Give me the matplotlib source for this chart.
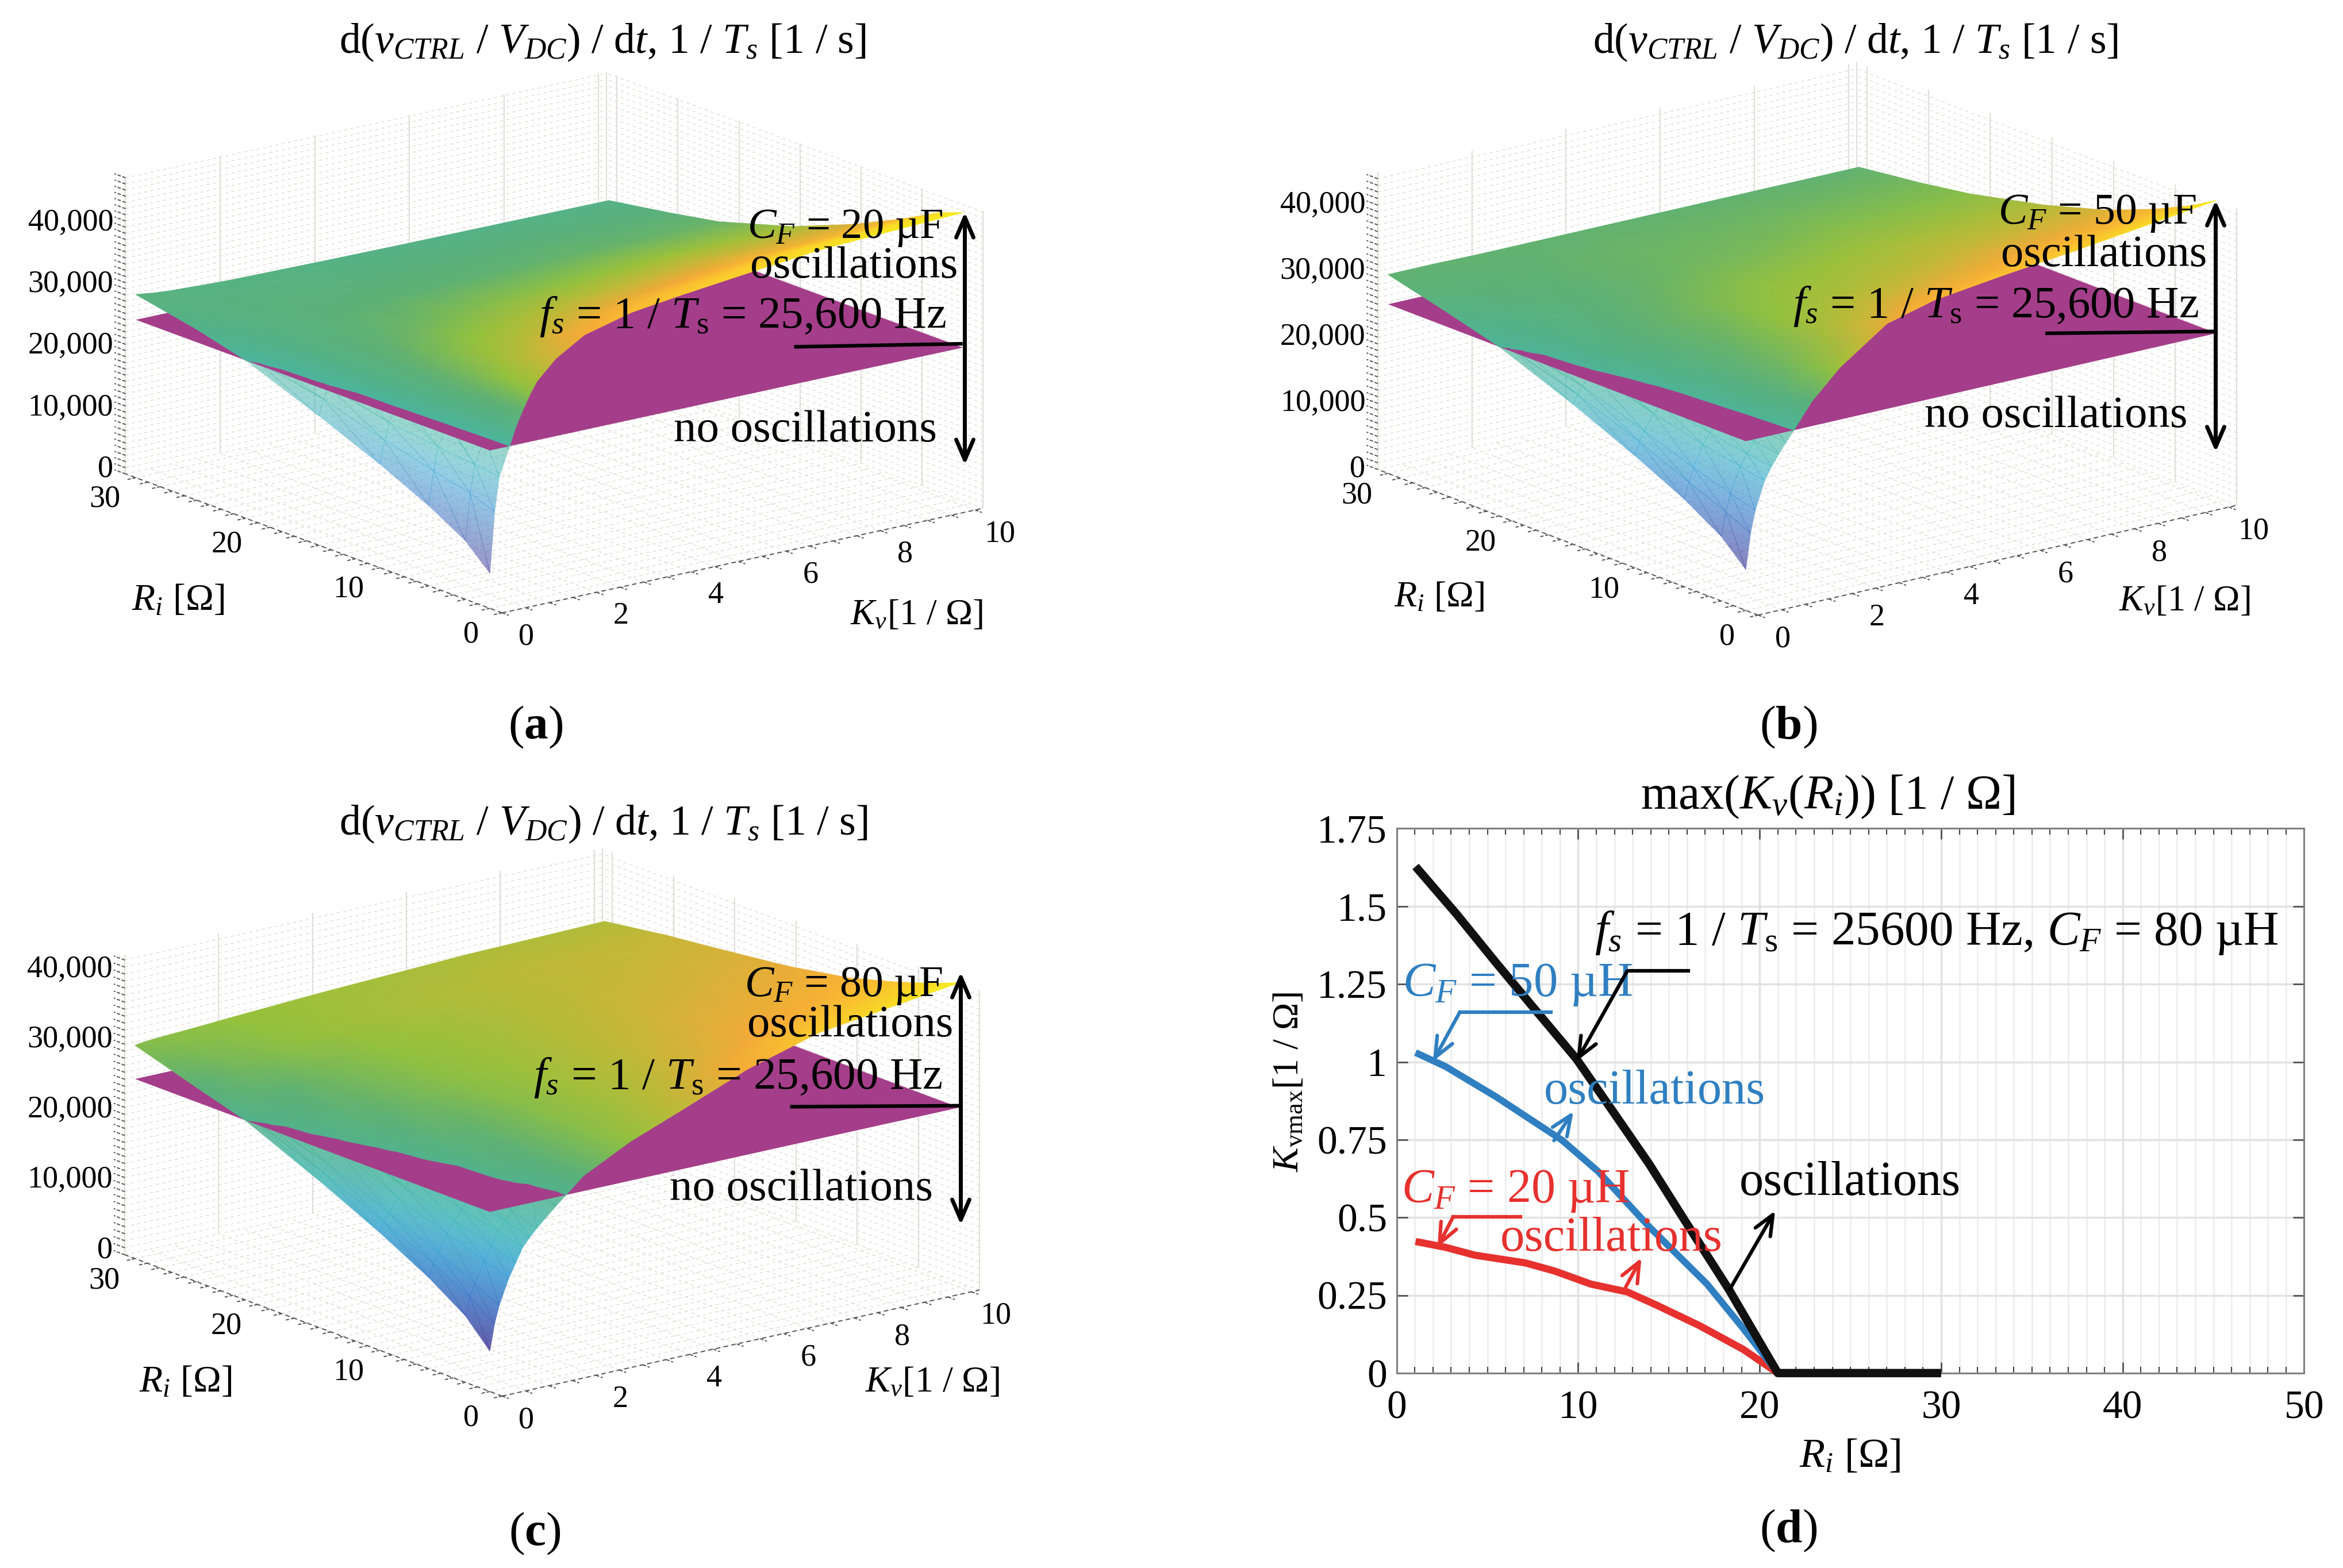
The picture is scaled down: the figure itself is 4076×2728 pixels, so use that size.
import math
import numpy as np
import matplotlib
matplotlib.use('Agg')
import matplotlib.pyplot as plt
from matplotlib.colors import LinearSegmentedColormap, Normalize
from matplotlib.ticker import MultipleLocator, FixedLocator, FixedFormatter
from mpl_toolkits.mplot3d import proj3d
from mpl_toolkits.mplot3d.art3d import Line3DCollection

plt.rcParams['font.family'] = ['Liberation Serif', 'DejaVu Serif']
plt.rcParams['mathtext.fontset'] = 'custom'
plt.rcParams['mathtext.rm'] = 'Liberation Serif'
plt.rcParams['mathtext.it'] = 'Liberation Serif:italic'
plt.rcParams['mathtext.bf'] = 'Liberation Serif:bold'

# ---- values ----
KV_NODES = [0, 0.1, 0.2, 0.4, 0.55, 0.7, 0.85, 1, 1.4, 2, 3, 4, 5.5, 7, 10]
RI_NODES = [1, 3, 6, 10, 15, 21, 25, 30]
FS_PLANE = 25600

# one row per RI_NODES entry, one column per KV_NODES entry
Z_CF20 = [
    [5700, 15500, 21000, 25200, 28500, 31000, 33300, 35200, 38200, 41000, 43000, 44000, 45300, 46500, 47500],
    [9500, 17000, 21500, 25400, 28200, 30500, 32400, 34000, 36900, 39500, 41400, 42500, 43800, 45000, 46000],
    [13000, 18500, 22200, 25900, 28100, 30000, 31400, 32500, 34800, 36500, 38400, 39500, 40700, 41800, 42800],
    [16800, 20500, 23200, 26700, 28200, 29500, 30400, 31200, 32700, 34000, 35500, 36500, 37400, 38200, 39000],
    [21000, 23500, 25400, 27200, 28200, 29000, 29500, 30000, 30900, 31800, 32700, 33300, 33900, 34500, 35000],
    [25600, 26300, 26900, 27800, 28300, 28800, 29100, 29300, 29700, 30200, 30600, 30800, 31000, 31200, 31400],
    [27700, 28000, 28300, 28700, 28900, 29000, 29200, 29300, 29400, 29600, 29700, 29800, 29850, 29900, 29900],
    [29700, 29600, 29500, 29300, 29200, 29100, 29050, 29000, 28850, 28700, 28600, 28500, 28400, 28350, 28260],
]
Z_CF50 = [
    [6200, 11500, 14800, 19000, 20900, 22500, 24000, 25400, 29300, 33500, 38500, 40400, 41800, 43000, 45700],
    [9800, 13300, 15900, 19700, 21400, 23000, 24400, 25800, 29000, 32200, 36600, 38800, 40100, 41300, 43500],
    [13300, 15700, 17700, 20900, 22400, 23900, 25200, 26400, 28900, 31000, 34500, 36400, 37800, 39000, 40800],
    [17000, 18900, 20400, 22700, 23900, 25000, 26000, 27000, 28700, 30300, 32800, 34200, 35400, 36500, 37800],
    [21200, 22500, 23600, 25300, 26100, 26900, 27500, 28000, 29100, 30300, 31800, 32700, 33500, 34200, 35000],
    [25600, 26000, 26300, 26900, 27300, 27600, 27900, 28200, 28800, 29500, 30400, 31000, 31500, 32000, 32400],
    [27700, 27900, 28100, 28400, 28600, 28700, 28900, 29100, 29500, 29900, 30300, 30600, 30800, 31000, 31200],
    [30100, 30100, 30100, 30100, 30100, 30100, 30100, 30100, 30050, 30000, 30000, 30000, 30000, 30000, 30000],
]
Z_CF80 = [
    [5800, 9500, 12000, 15500, 17500, 19500, 20700, 21800, 24300, 27800, 31200, 33800, 37800, 40700, 43400],
    [9500, 12000, 13800, 16800, 18700, 20500, 21800, 22900, 25000, 27700, 30800, 33300, 36800, 39300, 42000],
    [13000, 14800, 16300, 18600, 20200, 21700, 22800, 23800, 26500, 28000, 30700, 32500, 35400, 37500, 40200],
    [16800, 18100, 19300, 21100, 22300, 23500, 24500, 25500, 27000, 28500, 30500, 32100, 34300, 36200, 38200],
    [21000, 21900, 23000, 24800, 25300, 26100, 26700, 27200, 28300, 29400, 30800, 31900, 33600, 35000, 36600],
    [25600, 26000, 26400, 27000, 27400, 27800, 28100, 28400, 29100, 30000, 31100, 31900, 33000, 34000, 35300],
    [27700, 28000, 28300, 28800, 29100, 29400, 29600, 29800, 30300, 31000, 31800, 32500, 33200, 33900, 34500],
    [30400, 30500, 30600, 30700, 30750, 30800, 30850, 30900, 31050, 31300, 31650, 32000, 32400, 32800, 33200],
]

Z_TICKS = [0, 10000, 20000, 30000, 40000]
Z_TICK_LABELS = ['0', '10,000', '20,000', '30,000', '40,000']
KV_TICKS = [0, 2, 4, 6, 8, 10]
RI_TICKS = [0, 10, 20, 30]

# panel (d): Ri, Kvmax
BLACK_RI = [1.04, 3.3, 5.5, 7.5, 9.9, 11.9, 13.9, 15.9, 18.3, 21, 30]
BLACK_KV = [1.628, 1.475, 1.317, 1.177, 1.01, 0.842, 0.673, 0.488, 0.269, 0, 0]
BLUE_RI = [1.04, 2.7, 5.5, 9.1, 11.1, 13.9, 17.1, 19.1, 21]
BLUE_KV = [1.03, 0.985, 0.887, 0.749, 0.648, 0.471, 0.286, 0.143, 0]
RED_RI = [1.04, 2.7, 4.3, 7.1, 8.7, 10.7, 12.7, 14.3, 16.7, 19.1, 21]
RED_KV = [0.423, 0.404, 0.379, 0.354, 0.328, 0.286, 0.261, 0.219, 0.152, 0.076, 0]
D_YTICKS = [0, 0.25, 0.5, 0.75, 1, 1.25, 1.5, 1.75]
D_YLABELS = ['0', '0.25', '0.5', '0.75', '1', '1.25', '1.5', '1.75']

TITLE_3D = r'd($v_{CTRL}$ / $V_{DC}$) / d$t$, 1 / $T_s$ [1 / s]'
FS_TEXT = r'$f_s$ = 1 / $T_{\mathrm{s}}$ = 25,600 Hz'

SURF_CMAP = LinearSegmentedColormap.from_list('surf', [
    (0.00, '#4a3d98'), (0.15, '#3b6fc4'), (0.30, '#3aa6d6'), (0.40, '#45b9b8'),
    (0.50, '#4fb394'), (0.60, '#5fb174'), (0.68, '#96c23c'), (0.76, '#c4b838'),
    (0.84, '#f5a938'), (0.92, '#fbc92e'), (1.00, '#f6ee1f')])

XMAX, YMAX = 10.17, 30.84
W, H = 4076, 2728
OV_W, OV_H = 1568, 1049

fig = plt.figure(figsize=(W / 100, H / 100), dpi=100, facecolor='white')
ov = fig.add_axes([0, 0, 1, 1], zorder=5)
ov.set_xlim(0, OV_W)
ov.set_ylim(OV_H, 0)
ov.set_autoscale_on(False)
ov.axis('off')
ov.patch.set_alpha(0)
renderer = fig.canvas.get_renderer()


def put_text(s, x0, x1, y, color='black', size=50):
    # fit the string between two x positions of the picture
    t = ov.text(x0, y, s, color=color, fontsize=size, ha='left', va='center')
    width = t.get_window_extent(renderer).width
    t.set_fontsize(size * (x1 - x0) * W / OV_W / width)
    return t


def arrow(p0, p1, color='black', style='->,head_length=0.7,head_width=0.3', lw=4.5):
    ov.annotate('', xy=p1, xytext=p0, arrowprops=dict(
        arrowstyle=style, color=color, lw=lw, mutation_scale=36, shrinkA=0, shrinkB=0))


def to_overlay(ax, x, y, z):
    px, py, tz = proj3d.proj_transform(np.asarray(x, float), np.asarray(y, float),
                                       np.asarray(z, float), ax.get_proj())
    disp = ax.transData.transform(np.column_stack([px, py]))
    return ov.transData.inverted().transform(disp), tz


def setup_box(pos, left, front, right, height, ztop):
    # work out the orthographic view from where the box corners sit in the picture
    dxx, dxy = right[0] - front[0], front[1] - right[1]
    dyx, dyy = front[0] - left[0], front[1] - left[1]
    sin_el = math.sqrt(dxy / dxx * dyy / dyx)
    theta = math.atan(dxy / dxx / sin_el)
    el = math.degrees(math.asin(sin_el))
    azim = math.degrees(math.atan2(-math.cos(theta), -math.sin(theta)))

    ax = fig.add_subplot(111, projection='3d', zorder=1, computed_zorder=False)
    ax.set_proj_type('ortho')
    ax.view_init(elev=el, azim=azim)
    ax.set_box_aspect((dxx / math.cos(theta), dyx / math.sin(theta),
                       height / math.cos(math.radians(el))))
    ax.set_xlim(0, XMAX)
    ax.set_ylim(0, YMAX)
    ax.set_zlim(0, ztop)
    ax.set_axis_off()
    ax.patch.set_alpha(0)

    size, cx, cy = 1500.0, pos[0] * W / OV_W, (OV_H - pos[1]) * H / OV_H
    target = ov.transData.transform([left, front, right])
    for n in range(4):
        ax.set_position([(cx - size / 2) / W, (cy - size / 2) / H, size / W, size / H])
        ax.apply_aspect()
        px, py = proj3d.proj_transform(np.array([0, 0, XMAX]), np.array([YMAX, 0, 0]),
                                       np.zeros(3), ax.get_proj())[:2]
        cur = ax.transData.transform(np.column_stack([px, py]))
        k = (target[2][0] - target[0][0]) / (cur[2][0] - cur[0][0])
        size *= k
        cx += target[1][0] - (cx + (cur[1][0] - cx) * k)
        cy += target[1][1] - (cy + (cur[1][1] - cy) * k)
    return ax


def box_grid(ax, ztop, z_label_shift):
    zs = np.arange(0, ztop, 1000)
    minor, major, ticks = [], [], []
    for z in zs:
        minor.append([(0, YMAX, z), (XMAX, YMAX, z)])
        minor.append([(XMAX, 0, z), (XMAX, YMAX, z)])
        ticks.append([(0, YMAX, z), (0, YMAX + 0.9, z)])
    for k in np.arange(0, XMAX, 0.5):
        minor.append([(k, 0, 0), (k, YMAX, 0)])
        ticks.append([(k, 0, 0), (k, -0.55, 0)])
    for r in np.arange(0, YMAX, 1.0):
        minor.append([(0, r, 0), (XMAX, r, 0)])
        ticks.append([(0, r, 0), (-0.18, r, 0)])
    for k in KV_TICKS:
        major.append([(k, YMAX, 0), (k, YMAX, ztop)])
    major.append([(XMAX, YMAX, 0), (XMAX, YMAX, ztop)])
    for r in np.arange(0, YMAX, 5):
        major.append([(XMAX, r, 0), (XMAX, r, ztop)])
    major.append([(0, YMAX, 0), (0, YMAX, ztop)])
    ax.add_collection3d(Line3DCollection(major, colors='#e2dedc', linewidths=1.6), autolim=False)
    ax.add_collection3d(Line3DCollection(minor, colors='#e0dbd8', linewidths=1.0,
                                         linestyles=[(0, (4, 4))]), autolim=False)
    ax.add_collection3d(Line3DCollection(ticks, colors='#555555', linewidths=1.4,
                                         linestyles=[(0, (3, 1.5))]), autolim=False)
    edges = [[(0, 0, 0), (0, YMAX, 0)], [(0, 0, 0), (XMAX, 0, 0)]]
    ax.add_collection3d(Line3DCollection(edges, colors='#555555', linewidths=1.4,
                                         linestyles=[(0, (4, 3))]), autolim=False)

    # tick labels go on the overlay, at the projected tick positions
    for z, lab in zip(Z_TICKS, Z_TICK_LABELS):
        p, _ = to_overlay(ax, [0], [YMAX + 1.0], [z + z_label_shift])
        ov.text(p[0, 0], p[0, 1], lab, fontsize=39, ha='right', va='center')
    for k in KV_TICKS:
        p, _ = to_overlay(ax, [k], [-2.0], [-ztop * 0.05])
        ov.text(p[0, 0], p[0, 1], str(k), fontsize=39, ha='center', va='center')
    for r in RI_TICKS:
        p, _ = to_overlay(ax, [-0.66], [r], [-ztop * 0.05])
        ov.text(p[0, 0], p[0, 1], str(r), fontsize=39, ha='center', va='center')


def split_at_level(x, y, z, level):
    # cut every facet of the table on the plane, so the plane can be layered between
    above, below = [], []
    for i in range(len(y) - 1):
        for j in range(len(x) - 1):
            a = (x[j], y[i], z[i][j])
            b = (x[j + 1], y[i], z[i][j + 1])
            c = (x[j + 1], y[i + 1], z[i + 1][j + 1])
            d = (x[j], y[i + 1], z[i + 1][j])
            for tri in ((a, b, c), (a, c, d)):
                pts = np.array(tri, float)
                up = pts[:, 2] >= level
                if up.all():
                    above.append(pts)
                elif not up.any():
                    below.append(pts)
                else:
                    lone = int(np.where(up != (up.sum() >= 2))[0][0])
                    p, q, r = pts[lone], pts[(lone + 1) % 3], pts[(lone + 2) % 3]
                    c1 = p + (q - p) * (level - p[2]) / (q[2] - p[2])
                    c2 = p + (r - p) * (level - p[2]) / (r[2] - p[2])
                    single = [np.array([p, c1, c2])]
                    pair = [np.array([c1, q, r]), np.array([c1, r, c2])]
                    if up[lone]:
                        above += single
                        below += pair
                    else:
                        below += single
                        above += pair
    return np.array(above), np.array(below)


def draw_tris(ax, tris, norm, alpha, zorder):
    v = tris.reshape(-1, 3)
    xy, tz = to_overlay(ax, v[:, 0], v[:, 1], v[:, 2])
    idx = np.arange(len(v)).reshape(-1, 3)
    order = np.argsort(-tz[idx].mean(axis=1))
    ov.tripcolor(xy[:, 0], xy[:, 1], idx[order], v[:, 2], shading='gouraud',
                 cmap=SURF_CMAP, norm=norm, alpha=alpha, zorder=zorder)


def surface_panel(table, ztop, pos, left, front, right, height, alpha_low, z_label_shift):
    ax = setup_box(pos, left, front, right, height, ztop)
    box_grid(ax, ztop, z_label_shift)
    above, below = split_at_level(KV_NODES, RI_NODES, table, FS_PLANE)
    norm = Normalize(np.min(table), np.max(table))
    draw_tris(ax, below, norm, alpha_low, 1)
    xs = [KV_NODES[0], KV_NODES[-1], KV_NODES[-1], KV_NODES[0]]
    ys = [RI_NODES[0], RI_NODES[0], RI_NODES[-1], RI_NODES[-1]]
    plane, _ = to_overlay(ax, xs, ys, [FS_PLANE] * 4)
    ov.fill(plane[:, 0], plane[:, 1], color='#a43e8a', lw=0, zorder=2)
    draw_tris(ax, above, norm, 1, 3)


# ---- panels (a), (b), (c) ----
surface_panel(Z_CF20, 48200, (370, 250), (84, 317), (336, 410), (658, 340), 199, 0.55, 0)
surface_panel(Z_CF50, 45000, (1200, 250), (922, 314), (1176.6, 411.5), (1497, 338), 199, 0.65, -700)
surface_panel(Z_CF80, 42800, (370, 770), (83.5, 839.4), (336, 934), (655.5, 863), 201, 0.85, 0)

put_text(TITLE_3D, 227, 580, 28.7)
put_text(TITLE_3D, 1066, 1418, 28.7)
put_text(TITLE_3D, 227, 581, 551.5)

put_text(r'$C_F$ = 20 µF', 500, 631, 152.5)
put_text(r'$C_F$ = 50 µF', 1337, 1470, 143)
put_text(r'$C_F$ = 80 µF', 498, 631, 659.5)
put_text('oscillations', 502, 641, 178.6)
put_text('oscillations', 1339, 1477, 170.7)
put_text('oscillations', 500, 638, 686)
put_text(FS_TEXT, 361, 634, 212)
put_text(FS_TEXT, 1200, 1472, 204.8)
put_text(FS_TEXT, 357, 631, 721)
put_text('no oscillations', 451, 627.5, 288)
put_text('no oscillations', 1288, 1464, 278.5)
put_text('no oscillations', 448, 624.5, 795.7)

put_text(r'$R_i$ [Ω]', 88, 150, 402)
put_text(r'$R_i$ [Ω]', 933, 993.5, 400)
put_text(r'$R_i$ [Ω]', 93, 155, 925)
put_text(r'$K_v$[1 / Ω]', 569, 658, 412)
put_text(r'$K_v$[1 / Ω]', 1418, 1506, 402.6)
put_text(r'$K_v$[1 / Ω]', 579, 669, 925)

ov.plot([532.7, 643], [232, 230], color='black', lw=4.5, zorder=6)
ov.plot([1370, 1482], [223, 221.7], color='black', lw=4.5, zorder=6)
ov.plot([530, 643], [740.4, 739.7], color='black', lw=4.5, zorder=6)
for x, y0, y1 in ((645.7, 142, 311), (1482.8, 134, 302.4), (643, 650.4, 819.4)):
    arrow((x, y1), (x, y0), style='<->,head_length=0.7,head_width=0.3', lw=5)

for lab, x, y in (('a', 358.4, 486.5), ('b', 1197, 486.5), ('c', 358, 1026), ('d', 1197, 1024)):
    ov.text(x, y, r'($\mathbf{%s}$)' % lab, fontsize=60, ha='center', va='center')

# ---- panel (d) ----
axd = fig.add_axes([934.7 / OV_W, 1 - 918.6 / OV_H, (1542 - 934.7) / OV_W, (918.6 - 554.3) / OV_H], zorder=2)
axd.plot(RED_RI, RED_KV, color='#e6312e', lw=9, solid_capstyle='butt', clip_on=False, zorder=4)
axd.plot(BLUE_RI, BLUE_KV, color='#2f7fc1', lw=8.5, solid_capstyle='butt', clip_on=False, zorder=4)
axd.plot(BLACK_RI, BLACK_KV, color='#111111', lw=10.5, solid_capstyle='butt', clip_on=False, zorder=4)
axd.set_xlim(0, 50)
axd.set_ylim(0, 1.75)
axd.xaxis.set_major_locator(MultipleLocator(10))
axd.xaxis.set_minor_locator(MultipleLocator(1))
axd.yaxis.set_major_locator(FixedLocator(D_YTICKS))
axd.yaxis.set_major_formatter(FixedFormatter(D_YLABELS))
axd.grid(True, which='major', color='#e2e2e2', lw=2.5)
axd.grid(True, which='minor', axis='x', color='#ececec', lw=1.8)
axd.set_axisbelow(True)
axd.tick_params(which='major', direction='in', top=True, right=True, length=14, width=1.8,
                color='#444444', labelsize=50, pad=12)
axd.tick_params(axis='x', which='major', pad=22)
axd.tick_params(which='minor', direction='in', top=True, length=8, width=1.5, color='#444444')
for sp in axd.spines.values():
    sp.set_color('#808080')
    sp.set_linewidth(2.2)

put_text(r'max($K_v$($R_i$)) [1 / Ω]', 1098, 1349, 533)
put_text(r'$f_s$ = 1 / $T_{\mathrm{s}}$ = 25600 Hz, $C_F$ = 80 µH', 1067, 1525, 624)
put_text(r'$C_F$ = 50 µH', 938.6, 1093, 659, color='#2f7fc1')
put_text(r'$C_F$ = 20 µH', 938, 1091, 797, color='#e6312e')
put_text('oscillations', 1033, 1181, 730.5, color='#2f7fc1')
put_text('oscillations', 1164, 1312, 791.5)
put_text('oscillations', 1004, 1153, 829, color='#e6312e')
put_text(r'$R_i$ [Ω]', 1204, 1272, 974.7)
ov.text(863, 724, r'$K_{\mathrm{vmax}}$[1 / Ω]', fontsize=46, rotation=90, ha='center', va='center')

ov.plot([1130, 1089], [649.6, 649.6], color='black', lw=4.5)
arrow((1089, 649.6), (1055, 710))
ov.plot([1038, 977], [677, 677], color='#2f7fc1', lw=4.5)
arrow((977, 677), (959, 710), color='#2f7fc1')
ov.plot([1017.6, 972.5], [814, 814], color='#e6312e', lw=4.5)
arrow((972.5, 814), (962, 834.5), color='#e6312e')
arrow((1040, 763), (1053, 743.5), color='#2f7fc1')
arrow((1157.6, 862.6), (1188, 810))
arrow((1088, 861), (1098.5, 841.5), color='#e6312e')

fig.savefig('out.png', dpi=100)
